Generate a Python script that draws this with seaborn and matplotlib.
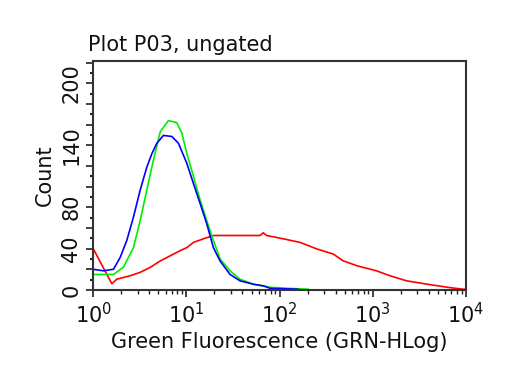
import numpy as np
import pandas as pd
import matplotlib
matplotlib.use("Agg")
import matplotlib.pyplot as plt
import seaborn as sns
from matplotlib.ticker import LogLocator, FixedLocator, NullFormatter, FuncFormatter

# Data (x given as log10 decade positions)
green_log = [0, 0.218, 0.325, 0.432, 0.504, 0.576, 0.647, 0.719, 0.808, 0.897, 0.951,
             1.005, 1.076, 1.148, 1.219, 1.29, 1.362, 1.469, 1.576, 1.72, 1.9, 2.1, 2.31]
green_count = [15, 15, 22, 41, 67, 97, 126, 153, 164, 162, 152,
               132, 110, 87, 67, 48, 30, 18.5, 10.4, 5.5, 2.5, 1.5, 0.7]

blue_log = [0, 0, 0.11, 0.218, 0.29, 0.361, 0.432, 0.504, 0.576, 0.63, 0.683, 0.754,
            0.844, 0.915, 1.005, 1.076, 1.148, 1.219, 1.29, 1.362, 1.469, 1.576, 1.72,
            1.83, 1.9, 2.2]
blue_count = [0, 20, 18.5, 20, 31.5, 48, 70.5, 96.6, 119, 132, 142, 149.6,
              148.6, 142, 122.6, 103, 83.6, 64, 41, 28, 15, 8.8, 5.5,
              3.9, 1.5, 0.7]

red_log = [0, 0.2, 0.254, 0.397, 0.504, 0.611, 0.719, 0.826, 0.933, 1.005, 1.076,
           1.183, 1.29, 1.469, 1.684, 1.79, 1.826, 1.86, 2.04, 2.22, 2.4, 2.577, 2.68,
           2.83, 3.04, 3.185, 3.364, 3.58, 3.83, 3.97, 4.0]
red_count = [40, 6, 10.4, 13.7, 17, 21.8, 28, 33, 38, 41, 46,
             49.5, 52.7, 52.7, 52.7, 52.7, 55.3, 52.7, 49.5, 46, 39.7, 34.7, 28.3,
             23.4, 18.5, 13.7, 8.8, 5.6, 2.2, 0.7, 0.7]

y_tick_labels = [0, 40, 80, 140, 200]
title_text = "Plot P03, ungated"
x_label = "Green Fluorescence (GRN-HLog)"
y_label = "Count"

sns.set_style("ticks")
plt.rcParams['font.family'] = ['DejaVu Sans']

fig = plt.figure(figsize=(5.12, 3.84), dpi=100)
ax = fig.add_axes([0.182, 0.245, 0.728, 0.597])

series = [("red", red_log, red_count), ("#00ee00", green_log, green_count),
          ("blue", blue_log, blue_count)]
for color, lg, ct in series:
    df = pd.DataFrame({"x": 10 ** np.array(lg), "y": ct})
    sns.lineplot(data=df, x="x", y="y", ax=ax, color=color, lw=1.2,
                 sort=False, estimator=None)

ax.set_xscale("log")
ax.set_xlim(1, 1e4)
ax.set_ylim(0, 222)

ax.xaxis.set_major_locator(LogLocator(base=10, numticks=10))
ax.xaxis.set_minor_locator(LogLocator(base=10, subs=np.arange(2, 10), numticks=20))
ax.xaxis.set_minor_formatter(NullFormatter())
ax.yaxis.set_major_locator(FixedLocator(np.arange(0, 221, 20)))
ax.yaxis.set_major_formatter(FuncFormatter(
    lambda v, p: f"{int(round(v))}" if int(round(v)) in y_tick_labels else ""))
ax.yaxis.set_minor_locator(FixedLocator(np.arange(10, 221, 20)))

ax.tick_params(axis="both", which="major", direction="out", length=5, width=1.2,
               labelsize=15, color="#222222", labelcolor="#111111")
ax.tick_params(axis="x", which="minor", direction="out", length=3, width=1.0,
               color="#222222")
ax.tick_params(axis="y", which="minor", direction="out", length=2, width=1.5,
               color="#222222")
for lab in ax.get_yticklabels():
    lab.set_rotation(90)
    lab.set_va("center")

for sp in ax.spines.values():
    sp.set_visible(True)
    sp.set_linewidth(1.5)
    sp.set_color("#333333")

ax.set_xlabel(x_label, fontsize=15, color="#111111", labelpad=4)
ax.set_ylabel(y_label, fontsize=15, color="#111111", labelpad=5)
fig.text(0.172, 0.858, title_text, fontsize=15, color="#111111", ha="left", va="bottom")

fig.savefig("out.png", dpi=100, facecolor="white")
